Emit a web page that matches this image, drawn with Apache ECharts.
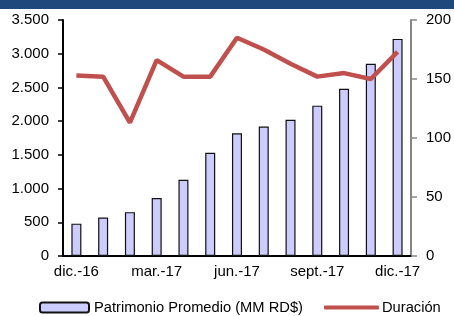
<!DOCTYPE html>
<html>
<head>
<meta charset="utf-8">
<script src="https://cdn.jsdelivr.net/npm/echarts@6/dist/echarts.min.js"></script>
<style>
  html, body { margin: 0; padding: 0; background: #fff; }
  #chart { width: 454px; height: 316px; }
</style>
</head>
<body>
<div id="chart"></div>
<script>
// months shown on the x axis
const months = ['dic.-16', 'ene.-17', 'feb.-17', 'mar.-17', 'abr.-17', 'may.-17', 'jun.-17',
  'jul.-17', 'ago.-17', 'sept.-17', 'oct.-17', 'nov.-17', 'dic.-17']
// Patrimonio Promedio (MM RD$) - left axis
const patrimonio = [480, 570, 650, 860, 1130, 1530, 1820, 1920, 2020, 2230, 2480, 2850, 3220]
// Duración - right axis
const duracion = [153, 152, 113, 166, 152, 152, 185, 175, 163, 152, 155, 150, 173]

const chart = echarts.init(document.getElementById('chart'))
const font = 'Liberation Sans, Arial, sans-serif'

chart.setOption({
  animation: false,
  textStyle: { fontFamily: font },
  graphic: [{
    type: 'rect',
    left: 0,
    top: 0,
    shape: { width: 454, height: 9 },
    style: { fill: '#1F487C' }
  }],
  legend: [{
    left: 39,
    top: 300,
    padding: 0,
    itemWidth: 49,
    itemHeight: 10,
    textStyle: { fontSize: 14.7, color: '#000', padding: [0, 0, 0, 0] },
    data: ['Patrimonio Promedio (MM RD$)']
  }, {
    left: 324,
    top: 300,
    padding: 0,
    itemWidth: 55,
    itemHeight: 4,
    textStyle: { fontSize: 14.7, color: '#000', padding: [0, 0, 0, -2] },
    data: [{ name: 'Duración', icon: 'roundRect' }]
  }],
  grid: {
    left: 63,
    right: 39,
    top: 20,
    bottom: 60,
    containLabel: false
  },
  xAxis: {
    type: 'category',
    data: months,
    boundaryGap: true,
    axisLine: { lineStyle: { color: '#000', width: 2 } },
    axisTick: { interval: 0, length: 5, lineStyle: { color: '#000', width: 1.5 } },
    axisLabel: { interval: 2, fontSize: 15, color: '#000', margin: 8 }
  },
  yAxis: [{
    type: 'value',
    min: 0,
    max: 3500,
    interval: 500,
    splitLine: { show: false },
    axisLine: { show: true, lineStyle: { color: '#000', width: 2 } },
    axisTick: { show: true, length: 5, lineStyle: { color: '#000', width: 1.5 } },
    axisLabel: {
      fontSize: 15,
      color: '#000',
      margin: 14,
      formatter: v => v.toLocaleString('de-DE')
    }
  }, {
    type: 'value',
    min: 0,
    max: 200,
    interval: 50,
    splitLine: { show: false },
    axisLine: { show: true, lineStyle: { color: '#868686', width: 2 } },
    axisTick: { show: true, length: 6, lineStyle: { color: '#868686', width: 1.5 } },
    axisLabel: { fontSize: 15, color: '#000', margin: 15 }
  }],
  series: [{
    name: 'Patrimonio Promedio (MM RD$)',
    type: 'bar',
    data: patrimonio,
    barWidth: 10,
    itemStyle: { color: '#CCCCFF', borderColor: '#111', borderWidth: 1.2 }
  }, {
    name: 'Duración',
    type: 'line',
    yAxisIndex: 1,
    data: duracion,
    symbol: 'none',
    z: 5,
    itemStyle: { color: '#C0504D' },
    lineStyle: { color: '#C0504D', width: 4.5 }
  }]
})
</script>
</body>
</html>
